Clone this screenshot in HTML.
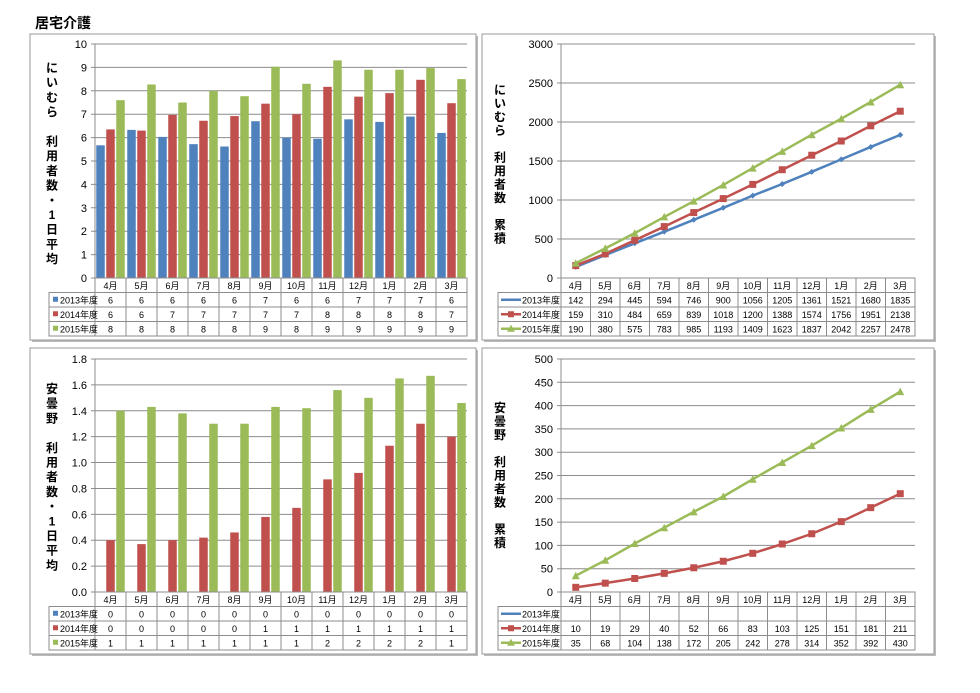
<!DOCTYPE html>
<html><head><meta charset="utf-8"><style>
body{margin:0;background:#fff;width:980px;height:693px;overflow:hidden}
svg{display:block}
text{font-family:"Liberation Sans","Noto Sans CJK JP",sans-serif}
</style></head><body>
<svg id="s" width="980" height="693" xmlns="http://www.w3.org/2000/svg">
<text x="35" y="28" font-size="14" font-weight="bold" font-family="Liberation Serif,Noto Serif CJK SC,serif">居宅介護</text>
</svg>
<script>
const months=["4月","5月","6月","7月","8月","9月","10月","11月","12月","1月","2月","3月"];
const seriesNames=["2013年度","2014年度","2015年度"];
const colors=["#4f81bd","#c0504d","#9bbb59"];
// niimura daily average
const niiAvg13=[5.67,6.33,6.03,5.72,5.62,6.7,6.0,5.95,6.78,6.67,6.9,6.2];
const niiAvg14=[6.35,6.3,6.97,6.72,6.92,7.45,7.0,8.17,7.75,7.9,8.47,7.47];
const niiAvg15=[7.6,8.27,7.5,8.0,7.77,9.03,8.3,9.3,8.9,8.9,8.97,8.5];
const niiAvgT13=[6,6,6,6,6,7,6,6,7,7,7,6];
const niiAvgT14=[6,6,7,7,7,7,7,8,8,8,8,7];
const niiAvgT15=[8,8,8,8,8,9,8,9,9,9,9,9];
const niiAvgTicks=[0,1,2,3,4,5,6,7,8,9,10];
// niimura cumulative
const niiCum13=[142,294,445,594,746,900,1056,1205,1361,1521,1680,1835];
const niiCum14=[159,310,484,659,839,1018,1200,1388,1574,1756,1951,2138];
const niiCum15=[190,380,575,783,985,1193,1409,1623,1837,2042,2257,2478];
const niiCumTicks=[0,500,1000,1500,2000,2500,3000];
// azumino daily average
const azuAvg13=[0,0,0,0,0,0,0,0,0,0,0,0];
const azuAvg14=[0.4,0.37,0.4,0.42,0.46,0.58,0.65,0.87,0.92,1.13,1.3,1.2];
const azuAvg15=[1.4,1.43,1.38,1.3,1.3,1.43,1.42,1.56,1.5,1.65,1.67,1.46];
const azuAvgT13=[0,0,0,0,0,0,0,0,0,0,0,0];
const azuAvgT14=[0,0,0,0,0,1,1,1,1,1,1,1];
const azuAvgT15=[1,1,1,1,1,1,1,2,2,2,2,1];
const azuAvgTicks=[0,0.2,0.4,0.6,0.8,1.0,1.2,1.4,1.6,1.8];
// azumino cumulative
const azuCum14=[10,19,29,40,52,66,83,103,125,151,181,211];
const azuCum15=[35,68,104,138,172,205,242,278,314,352,392,430];
const azuCumTicks=[0,50,100,150,200,250,300,350,400,450,500];

const NS="http://www.w3.org/2000/svg";
const svg=document.getElementById('s');
function mk(tag,attrs,parent,txt){const e=document.createElementNS(NS,tag);for(const k in attrs)e.setAttribute(k,attrs[k]);if(txt!==undefined)e.textContent=txt;(parent||svg).appendChild(e);return e;}

function panel(o){
  const g=mk('g',{});
  
  
  // frame with shadow
  mk('rect',{x:o.fx+2,y:o.fy+2,width:o.fw,height:o.fh,fill:'#bbb'},g);
  mk('rect',{x:o.fx,y:o.fy,width:o.fw,height:o.fh,fill:'#fff',stroke:'#999','stroke-width':1},g);
  const x0=o.px0,x1=o.px1,yt=o.yt,yb=o.yb,max=o.ticks[o.ticks.length-1];
  const cw=(x1-x0)/12;
  const Y=v=>yb-(v/max)*(yb-yt);
  const X=i=>x0+cw*(i+0.5);
  // gridlines + ticks
  o.ticks.forEach(t=>{
    const l=mk('line',{x1:x0-4,x2:x1,y1:Y(t),y2:Y(t),stroke:'#8c8c8c','stroke-width':1},g);
    
    
    const tx=mk('text',{x:x0-8,y:Y(t)+4,'font-size':11,'text-anchor':'end',fill:'#000'},g,o.dec?t.toFixed(1):t);
    
    
  });
  mk('line',{x1:x0,x2:x0,y1:yt,y2:yb,stroke:'#8c8c8c'},g);
  // y title
  const tt=mk('text',{'font-size':12,'font-weight':'bold','font-family':'Liberation Serif,Noto Serif CJK SC,serif'},g);
  
  
  o.title.forEach((c,i)=>{mk('tspan',{x:o.tx,y:o.ty+i*o.tstep,'text-anchor':'middle'},tt,c);});
  // marks
  if(o.type==='bar'){
    o.series.forEach((s,si)=>{
      s.forEach((v,i)=>{
        if(v<=0)return;
        const bw=8.5;const cx=X(i)+(si-1)*10;
        const r=mk('rect',{x:cx-bw/2,y:Y(v),width:bw,height:yb-Y(v),fill:colors[si]},g);
        
        
      });
    });
  } else {
    o.series.forEach((s,si)=>{
      if(!s)return;
      const pts=s.map((v,i)=>X(i)+','+Y(v)).join(' ');
      const pl=mk('polyline',{points:pts,fill:'none',stroke:colors[si],'stroke-width':2.5},g);
      
      
      s.forEach((v,i)=>{
        let m;
        if(si===0)m=mk('path',{d:`M${X(i)-3},${Y(v)}L${X(i)},${Y(v)-3}L${X(i)+3},${Y(v)}L${X(i)},${Y(v)+3}Z`,fill:colors[0]},g);
        else if(si===1)m=mk('rect',{x:X(i)-3.5,y:Y(v)-3.5,width:7,height:7,fill:colors[1]},g);
        else m=mk('path',{d:`M${X(i)-4},${Y(v)+3.5}L${X(i)+4},${Y(v)+3.5}L${X(i)},${Y(v)-4}Z`,fill:colors[2]},g);
        
        
      });
    });
  }
  // table
  const rh=14.5, tl=o.tl;
  const tb=yb+rh*4;
  mk('rect',{x:x0,y:yb,width:x1-x0,height:rh,fill:'none',stroke:'#8c8c8c'},g);
  mk('rect',{x:tl,y:yb+rh,width:x1-tl,height:rh*3,fill:'none',stroke:'#8c8c8c'},g);
  for(let r=2;r<4;r++)mk('line',{x1:tl,x2:x1,y1:yb+rh*r,y2:yb+rh*r,stroke:'#8c8c8c'},g);
  for(let i=0;i<=12;i++)mk('line',{x1:x0+cw*i,x2:x0+cw*i,y1:yb,y2:tb,stroke:'#8c8c8c'},g);
  months.forEach((m,i)=>{
    const t=mk('text',{x:X(i),y:yb+11,'font-size':9,'text-anchor':'middle'},g,m);
    
    
  });
  o.tvals.forEach((row,si)=>{
    const cy=yb+rh*(si+1)+rh/2;
    if(o.type==='bar')mk('rect',{x:tl+4,y:cy-3,width:5,height:5,fill:colors[si]},g);
    else{
      mk('line',{x1:tl+3,x2:tl+23,y1:cy,y2:cy,stroke:colors[si],'stroke-width':2.5},g);
      if(si===1)mk('rect',{x:tl+10,y:cy-3,width:6,height:6,fill:colors[1]},g);
      if(si===2)mk('path',{d:`M${tl+9},${cy+3}L${tl+17},${cy+3}L${tl+13},${cy-4}Z`,fill:colors[2]},g);
    }
    const lt=mk('text',{x:o.type==='bar'?tl+11:tl+24,y:cy+3.5,'font-size':9},g,seriesNames[si]);
    
    
    if(!row)return;
    row.forEach((v,i)=>{
      const t=mk('text',{x:X(i),y:cy+3.5,'font-size':9,'text-anchor':'middle'},g,v);
      
      
    });
  });
}
const avgTitle1=["に","い","む","ら","","利","用","者","数","・","1","日","平","均"];
const avgTitle2=["安","曇","野","","利","用","者","数","・","1","日","平","均"];
panel({name:'niimura-daily-average-chart',type:'bar',fx:30,fy:34,fw:446,fh:306,px0:95,px1:467,yt:44,yb:278,tl:49,
  ticks:niiAvgTicks,series:[niiAvg13,niiAvg14,niiAvg15],tvals:[niiAvgT13,niiAvgT14,niiAvgT15],
  title:avgTitle1,tx:52,ty:72,tstep:14.7});
panel({name:'niimura-cumulative-chart',type:'line',fx:482,fy:34,fw:452,fh:306,px0:561,px1:915,yt:44,yb:278,tl:498,
  ticks:niiCumTicks,series:[niiCum13,niiCum14,niiCum15],tvals:[niiCum13,niiCum14,niiCum15],
  title:["に","い","む","ら","","利","用","者","数","","累","積"],tx:500,ty:94,tstep:13.5});
panel({name:'azumino-daily-average-chart',type:'bar',fx:30,fy:348,fw:446,fh:306,px0:95,px1:467,yt:359,yb:592,tl:49,dec:true,
  ticks:azuAvgTicks,series:[azuAvg13,azuAvg14,azuAvg15],tvals:[azuAvgT13,azuAvgT14,azuAvgT15],
  title:avgTitle2,tx:52,ty:393,tstep:14.7});
panel({name:'azumino-cumulative-chart',type:'line',fx:482,fy:348,fw:452,fh:306,px0:561,px1:915,yt:359,yb:592,tl:498,
  ticks:azuCumTicks,series:[null,azuCum14,azuCum15],tvals:[null,azuCum14,azuCum15],
  title:["安","曇","野","","利","用","者","数","","累","積"],tx:500,ty:412,tstep:13.5});
</script>
</body></html>
